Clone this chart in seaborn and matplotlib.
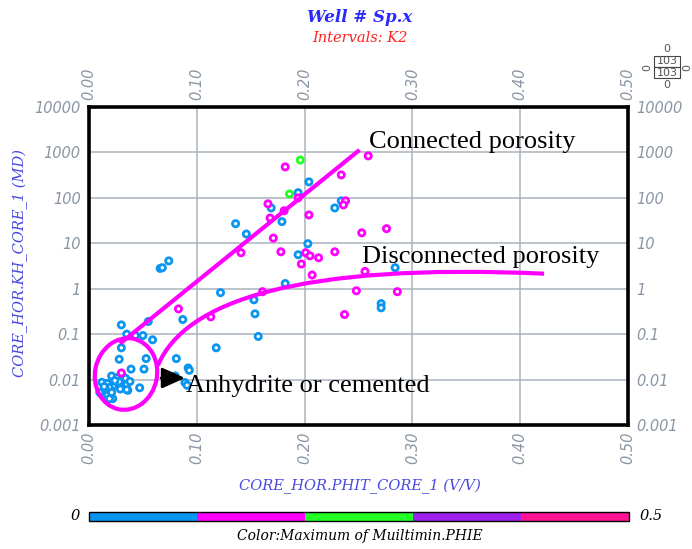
import numpy as np
import pandas as pd
import matplotlib
matplotlib.use("Agg")
import matplotlib.pyplot as plt
import matplotlib as mpl
import seaborn as sns
from matplotlib.colors import ListedColormap, BoundaryNorm
from matplotlib.patches import Ellipse, Rectangle, PathPatch
from matplotlib.path import Path

# ---------------- data ----------------
blue_phit = [0.066, 0.068, 0.074, 0.204, 0.194, 0.169, 0.179, 0.136, 0.146, 0.203, 0.194,
             0.228, 0.234, 0.284, 0.182, 0.122, 0.271, 0.271, 0.153, 0.154, 0.087,
             0.157, 0.118, 0.055, 0.059, 0.030, 0.035, 0.043, 0.050, 0.030, 0.028,
             0.053, 0.051, 0.081, 0.092, 0.093, 0.080, 0.089, 0.091, 0.039, 0.047,
             0.036, 0.022, 0.021, 0.026, 0.031, 0.034, 0.012, 0.017, 0.019, 0.015,
             0.024, 0.027, 0.031, 0.035, 0.038, 0.010, 0.017, 0.021, 0.019, 0.035,
             0.028, 0.024, 0.014, 0.029]
blue_perm = [2.8, 2.9, 4.1, 225, 130, 60, 30, 27, 16, 9.8, 5.6,
             60, 86, 2.9, 1.3, 0.82, 0.47, 0.38, 0.57, 0.28, 0.21,
             0.089, 0.05, 0.19, 0.075, 0.16, 0.10, 0.093, 0.093, 0.05, 0.028,
             0.029, 0.017, 0.029, 0.018, 0.016, 0.012, 0.0086, 0.0075, 0.017, 0.0066,
             0.0058, 0.0038, 0.012, 0.011, 0.012, 0.0106, 0.0087, 0.0082, 0.0067, 0.0063,
             0.0074, 0.0082, 0.0071, 0.0078, 0.0091, 0.0052, 0.0045, 0.0052, 0.0038, 0.006,
             0.009, 0.0095, 0.007, 0.0062]
magenta_phit = [0.182, 0.166, 0.181, 0.168, 0.204, 0.171, 0.141, 0.178, 0.201, 0.205,
                0.213, 0.197, 0.207, 0.228, 0.234, 0.238, 0.236, 0.161, 0.259, 0.253,
                0.276, 0.256, 0.248, 0.286, 0.237, 0.083, 0.113, 0.030, 0.194]
magenta_perm = [480, 74, 52, 36, 42, 13, 6.2, 6.5, 6.2, 5.3,
                4.8, 3.5, 2.0, 6.5, 320, 86, 70, 0.86, 840, 17,
                21, 2.4, 0.9, 0.86, 0.27, 0.36, 0.24, 0.014, 100]
green_phit = [0.196, 0.186]
green_perm = [680, 122]

group_phie = {"blue": 0.05, "magenta": 0.15, "green": 0.25}

phie_bins = [0.0, 0.1, 0.2, 0.3, 0.4, 0.5]
bin_colors = ["#0a96f0", "#ff00ff", "#22ff22", "#a020f0", "#ff1493"]

x_ticks = [0.0, 0.1, 0.2, 0.3, 0.4, 0.5]
x_tick_labels = ["0.00", "0.10", "0.20", "0.30", "0.40", "0.50"]
y_ticks = [0.001, 0.01, 0.1, 1, 10, 100, 1000, 10000]
y_tick_labels = ["0.001", "0.01", "0.1", "1", "10", "100", "1000", "10000"]

# annotation shapes (data units)
connected_x = [0.0287, 0.251]
connected_y = [0.0618, 1135]
# cubic Bezier control points of the "disconnected" curve
disconnected_ctrl_x = [0.0639, 0.0889, 0.1954, 0.4222]
disconnected_ctrl_y = [0.0203, 0.545, 3.73, 2.14]

# ---------------- build table ----------------
df = pd.concat([
    pd.DataFrame({"phit": blue_phit, "perm": blue_perm, "phie": group_phie["blue"]}),
    pd.DataFrame({"phit": magenta_phit, "perm": magenta_perm, "phie": group_phie["magenta"]}),
    pd.DataFrame({"phit": green_phit, "perm": green_perm, "phie": group_phie["green"]}),
], ignore_index=True)
df["bin"] = np.digitize(df["phie"], phie_bins) - 1
palette = {i: bin_colors[i] for i in sorted(df["bin"].unique())}

sns.set_theme(style="white")
plt.rcParams["font.family"] = ["DejaVu Sans"]

W, H = 692, 549
fig = plt.figure(figsize=(W / 100, H / 100), dpi=100)
fig.patch.set_facecolor("white")
ax = fig.add_axes([89 / W, 1 - 425 / H, 539 / W, 318 / H])

sns.scatterplot(data=df, x="phit", y="perm", hue="bin", palette=palette,
                legend=False, s=20, linewidth=2.0, ax=ax, zorder=3)
coll = ax.collections[-1]
fc = coll.get_facecolors()
coll.set_edgecolors(fc)
coll.set_facecolors("white")

ax.set_yscale("log")
ax.set_xlim(0, 0.5)
ax.set_ylim(0.001, 10000)
ax.set_xticks(x_ticks)
ax.yaxis.set_minor_locator(mpl.ticker.NullLocator())
ax.set_yticks(y_ticks)
tick_color = "#8a96a4"
ax.set_xticklabels(x_tick_labels, fontstyle="italic", color=tick_color, fontsize=10.5)
ax.set_yticklabels(y_tick_labels, fontstyle="italic", color=tick_color, fontsize=10.5)
ax.tick_params(axis="x", top=True, labeltop=True, bottom=True, labelbottom=True,
               length=0, labelrotation=90, pad=5)
ax.tick_params(axis="y", left=True, labelleft=True, right=True, labelright=True,
               length=0, pad=6)
ax.set_xlabel("")
ax.set_ylabel("")
ax.grid(True, color="#a9b3bd", lw=1.1)
ax.set_axisbelow(True)
for sp in ax.spines.values():
    sp.set_visible(True)
    sp.set_color("black")
    sp.set_linewidth(2.6)

# annotation lines
ax.plot(connected_x, connected_y, color="#ff00ff", lw=3, solid_capstyle="butt", zorder=4)
curve = Path(list(zip(disconnected_ctrl_x, disconnected_ctrl_y)),
             [Path.MOVETO, Path.CURVE4, Path.CURVE4, Path.CURVE4])
ax.add_patch(PathPatch(curve, fill=False, edgecolor="#ff00ff", lw=3,
                       capstyle="butt", transform=ax.transData, zorder=4))
ell = Ellipse((1.26, (H - 374) / 100), 0.62, 0.72, angle=-12, fill=False,
              edgecolor="#ff00ff", lw=3, transform=fig.dpi_scale_trans, zorder=5)
fig.add_artist(ell)
fig.add_artist(mpl.patches.FancyArrowPatch((161 / W, 1 - 378 / H), (185 / W, 1 - 378 / H),
                                           transform=fig.transFigure,
                                           arrowstyle="-|>,head_length=1.0,head_width=0.45",
                                           mutation_scale=14, lw=2, color="black",
                                           shrinkA=0, shrinkB=0))

def ftext(x, y, s, **kw):
    fig.text(x / W, 1 - y / H, s, **kw)

ann_kw = dict(family=["Liberation Serif", "DejaVu Serif"], fontsize=19, color="black", va="baseline")
ftext(369, 148, "Connected porosity", **ann_kw)
ftext(362, 263, "Disconnected porosity", **ann_kw)
ftext(186, 392, "Anhydrite or cemented", **ann_kw)

# titles and axis labels
ftext(360, 18, "Well # Sp.x", family="DejaVu Serif", style="italic", weight="bold",
      fontsize=12, color="#2a2aff", ha="center", va="center")
ftext(360, 38, "Intervals: K2", family="DejaVu Serif", style="italic",
      fontsize=10.5, color="#ff2222", ha="center", va="center")
ftext(360, 486, "CORE_HOR.PHIT_CORE_1 (V/V)", family="DejaVu Serif", style="italic",
      fontsize=10.5, color="#4848e0", ha="center", va="center")
ftext(20, 263, "CORE_HOR.KH_CORE_1 (MD)", family="DejaVu Serif", style="italic",
      fontsize=10.5, color="#4848e0", ha="center", va="center", rotation=90)

# colour bar
cmap = ListedColormap(bin_colors)
norm = BoundaryNorm(phie_bins, cmap.N)
cax = fig.add_axes([89 / W, 1 - 521 / H, 540 / W, 9 / H])
cb = fig.colorbar(mpl.cm.ScalarMappable(norm=norm, cmap=cmap), cax=cax,
                  orientation="horizontal")
cb.set_ticks([])
cb.minorticks_off()
cax.tick_params(which="both", length=0, labelbottom=False)
cb.outline.set_linewidth(1)
cb.outline.set_edgecolor("black")
ftext(75, 516, "0", family="DejaVu Serif", style="italic", fontsize=10.5,
      ha="center", va="center", color="black")
ftext(640, 516, "0.5", family="DejaVu Serif", style="italic", fontsize=10.5,
      ha="left", va="center", color="black")
ftext(360, 536, "Color:Maximum of Muiltimin.PHIE", family="DejaVu Serif", style="italic",
      fontsize=10, ha="center", va="center", color="black")

# count box (top right)
bx, bw = 654, 26
for top in (56, 67):
    fig.add_artist(Rectangle((bx / W, 1 - (top + 11) / H), bw / W, 11 / H,
                             transform=fig.transFigure, fill=False, lw=0.8,
                             edgecolor="#444444"))
small = dict(fontsize=8, color="#555555", ha="center", va="center")
ftext(bx + bw / 2, 61.5, "103", **small)
ftext(bx + bw / 2, 72.5, "103", **small)
ftext(bx + bw / 2, 49, "0", **small)
ftext(bx + bw / 2, 85, "0", **small)
ftext(bx - 7, 67, "0", rotation=90, **small)
ftext(bx + bw + 7, 67, "0", rotation=90, **small)

fig.savefig("out.png", dpi=100)
